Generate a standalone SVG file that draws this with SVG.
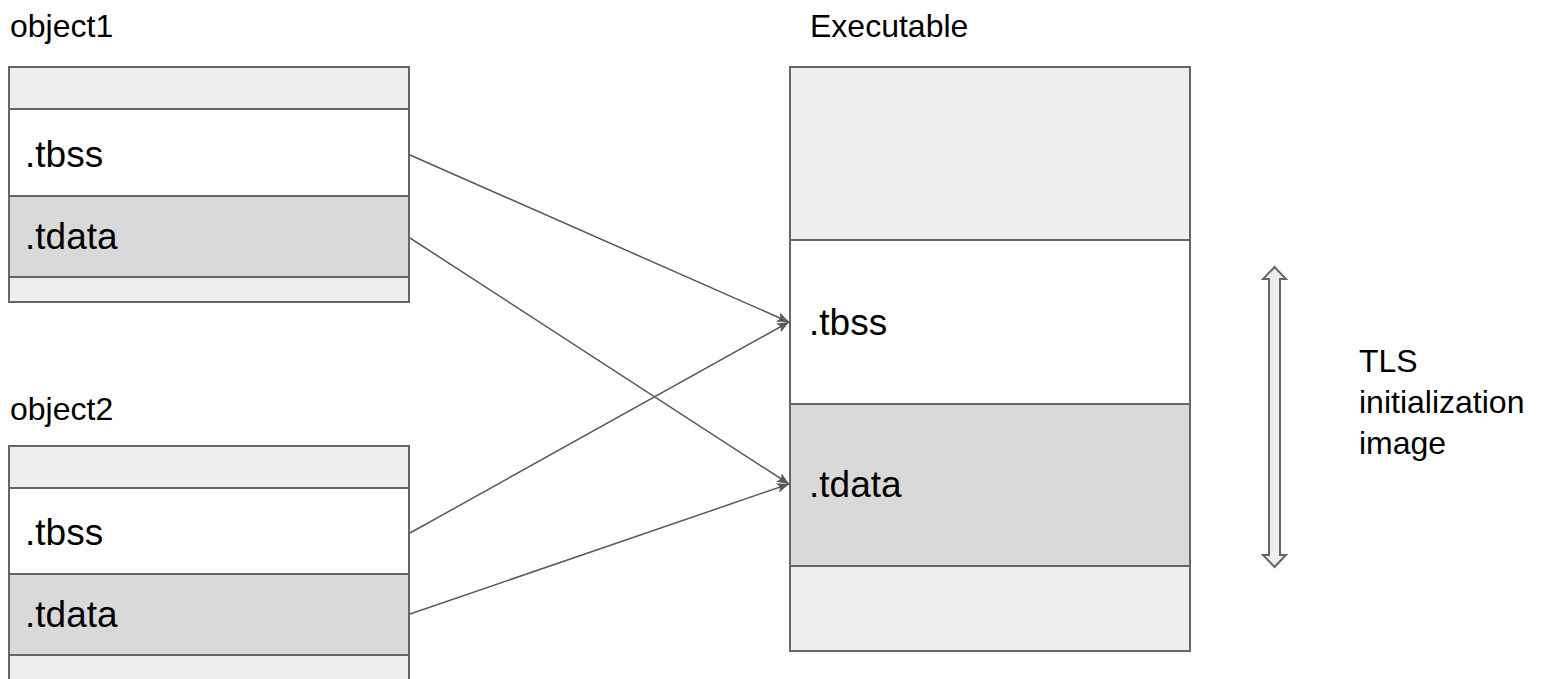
<svg xmlns="http://www.w3.org/2000/svg" width="1556" height="679" viewBox="0 0 1556 679">
  <style>
    .lbl { font-family: "Liberation Sans", Arial, sans-serif; font-size: 32px; fill: #000; }
    .sec { font-family: "Liberation Sans", Arial, sans-serif; font-size: 37px; fill: #000; }
    .pad { fill: #eeeeee; stroke: #666666; stroke-width: 2; }
    .bss { fill: #ffffff; stroke: #666666; stroke-width: 2; }
    .dat { fill: #d9d9d9; stroke: #666666; stroke-width: 2; }
    .conn { fill: none; stroke: #595959; stroke-width: 1.5; }
  </style>
  <defs>
    <marker id="tip" viewBox="0 0 12 10" refX="12" refY="5" markerWidth="12" markerHeight="10" markerUnits="userSpaceOnUse" orient="auto">
      <path d="M0,0 L12,5 L0,10 L2.5,5 Z" fill="#595959"/>
    </marker>
  </defs>
  <rect width="1556" height="679" fill="#ffffff"/>

  <!-- object1 sections -->
  <g id="object1">
    <text class="lbl" x="10" y="37">object1</text>
    <rect class="pad" x="9" y="67" width="400" height="42"/>
    <rect class="bss" x="9" y="109" width="400" height="87"/>
    <rect class="dat" x="9" y="196" width="400" height="81"/>
    <rect class="pad" x="9" y="277" width="400" height="25"/>
    <text class="sec" x="25" y="167">.tbss</text>
    <text class="sec" x="25" y="249">.tdata</text>
  </g>

  <!-- object2 sections -->
  <g id="object2">
    <text class="lbl" x="10" y="420">object2</text>
    <rect class="pad" x="9" y="446" width="400" height="42"/>
    <rect class="bss" x="9" y="488" width="400" height="86"/>
    <rect class="dat" x="9" y="574" width="400" height="81"/>
    <rect class="pad" x="9" y="655" width="400" height="30"/>
    <text class="sec" x="25" y="545">.tbss</text>
    <text class="sec" x="25" y="627">.tdata</text>
  </g>

  <!-- linked executable -->
  <g id="executable">
    <text class="lbl" x="810" y="37">Executable</text>
    <rect class="pad" x="790" y="67" width="400" height="173"/>
    <rect class="bss" x="790" y="240" width="400" height="164"/>
    <rect class="dat" x="790" y="404" width="400" height="162"/>
    <rect class="pad" x="790" y="566" width="400" height="85"/>
    <text class="sec" x="809" y="335">.tbss</text>
    <text class="sec" x="809" y="497">.tdata</text>
  </g>

  <!-- TLS image extent -->
  <g id="tls-range">
    <path d="M1274.5,267 L1286,279 L1280,279 L1280,555 L1286,555 L1274.5,567 L1263,555 L1269,555 L1269,279 L1263,279 Z" fill="#eeeeee" stroke="#666666" stroke-width="2" stroke-linejoin="miter"/>
    <text class="lbl" x="1359" y="372">TLS</text>
    <text class="lbl" x="1359" y="413">initialization</text>
    <text class="lbl" x="1359" y="454">image</text>
  </g>

  <!-- section mappings -->
  <g id="connectors">
    <line class="conn" x1="410" y1="155" x2="789" y2="322" marker-end="url(#tip)"/>
    <line class="conn" x1="410" y1="238" x2="789" y2="484" marker-end="url(#tip)"/>
    <line class="conn" x1="410" y1="533" x2="789" y2="322" marker-end="url(#tip)"/>
    <line class="conn" x1="410" y1="614" x2="789" y2="484" marker-end="url(#tip)"/>
  </g>
</svg>
